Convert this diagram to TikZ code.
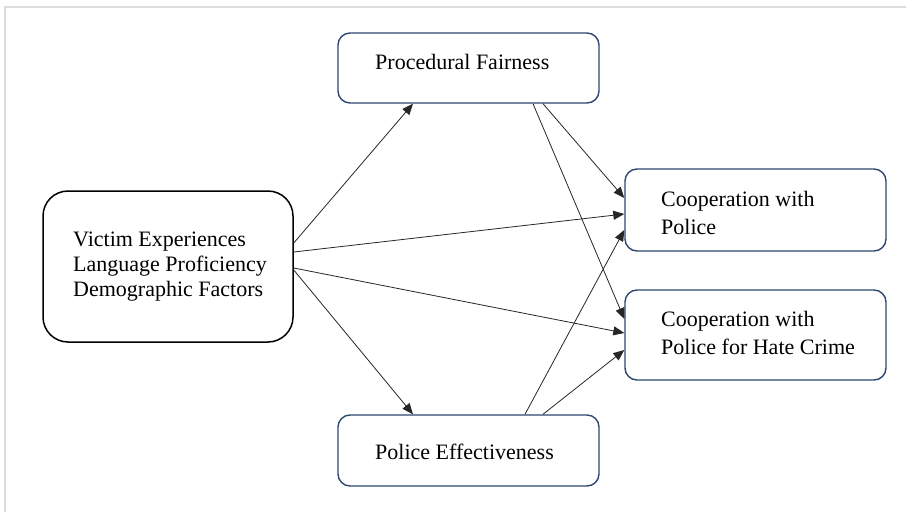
\documentclass[tikz,border=0pt]{standalone}
\usepackage{fontspec}
\setmainfont{Liberation Serif}
\usetikzlibrary{arrows.meta}
\definecolor{navy}{HTML}{2E4770}
\definecolor{frame}{HTML}{DCDCDC}
\tikzset{
  box/.style={draw=navy, line width=1.4pt, rounded corners=12pt, inner sep=0pt},
  bigbox/.style={draw=black, line width=1.5pt, rounded corners=25pt, inner sep=0pt},
  txt/.style={anchor=base west, inner sep=0pt, font=\fontsize{22}{26}\selectfont},
  link/.style={draw=black!85, line width=0.8pt, -{Triangle[length=11pt,width=9pt]}}
}
\begin{document}
\begin{tikzpicture}[x=1pt,y=-1pt]
\useasboundingbox (0,0) rectangle (906,512);
\draw[frame, line width=1.5pt] (5,512) -- (5,7) -- (906,7);

\node[bigbox, minimum width=250pt, minimum height=151pt] (L) at (168,266.5) {};
\node[box, minimum width=261pt, minimum height=70pt] (PF) at (468.5,68) {};
\node[box, minimum width=261pt, minimum height=71pt] (PE) at (468.5,450.5) {};
\node[box, minimum width=261pt, minimum height=82pt] (CP) at (755.5,210) {};
\node[box, minimum width=261pt, minimum height=90pt] (CH) at (755.5,335) {};

\node[txt] (l1) at (73,246) {Victim Experiences};
\node[txt] (l2) at (73,271) {Language Proficiency};
\node[txt] (l3) at (73,296) {Demographic Factors};
\node[txt] (pf) at (375,69) {Procedural Fairness};
\node[txt] (pe) at (375,459) {Police Effectiveness};
\node[txt] (cp1) at (661,206) {Cooperation with};
\node[txt] (cp2) at (661,234) {Police};
\node[txt] (ch1) at (661,326) {Cooperation with};
\node[txt] (ch2) at (661,354) {Police for Hate Crime};

\draw[link] ([yshift=23.5pt]L.east) -- ([xshift=-55.5pt]PF.south);
\draw[link] ([yshift=14.5pt]L.east) -- ([yshift=-4pt]CP.west);
\draw[link] ([yshift=-1.5pt]L.east) -- ([yshift=2pt]CH.west);
\draw[link] ([yshift=-3.5pt]L.east) -- ([xshift=-55.5pt]PE.north);
\draw[link] ([xshift=74.5pt]PF.south) -- ([yshift=12pt]CP.west);
\draw[link] ([xshift=64.5pt]PF.south) -- ([yshift=16pt]CH.west);
\draw[link] ([xshift=56.5pt]PE.north) -- ([yshift=-20pt]CP.west);
\draw[link] ([xshift=74.5pt]PE.north) -- ([yshift=-15pt]CH.west);
\end{tikzpicture}
\end{document}
